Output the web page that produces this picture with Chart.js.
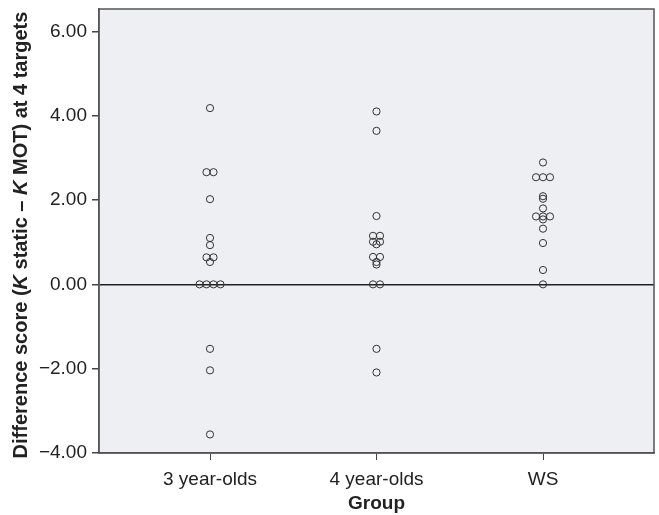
<!DOCTYPE html>
<html>
<head>
<meta charset="utf-8">
<script src="https://cdn.jsdelivr.net/npm/chart.js@4"></script>
<style>
  body { margin: 0; background: #fff; }
</style>
</head>
<body>
<canvas id="chart" width="659" height="515"></canvas>
<script>
// ---- Data ----
const groups = ['3 year-olds', '4 year-olds', 'WS'];
const groupX = [1, 2, 3];
const yTicks = [-4, -2, 0, 2, 4, 6];

const threeValues = [4.18, 2.66, 2.66, 2.02, 1.10, 0.93, 0.64, 0.64, 0.53, 0, 0, 0, 0, -1.53, -2.04, -3.56];
const threeSpread = [0, -0.5, 0.5, 0, 0, 0, -0.5, 0.5, 0, -1.5, -0.5, 0.5, 1.5, 0, 0, 0];

const fourValues = [4.10, 3.64, 1.62, 1.15, 1.15, 1.01, 1.01, 0.95, 0.65, 0.65, 0.53, 0.47, 0, 0, -1.53, -2.09];
const fourSpread = [0, 0, 0, -0.5, 0.5, -0.5, 0.5, 0, -0.5, 0.5, 0, 0, -0.5, 0.5, 0, 0];

const wsValues = [2.89, 2.54, 2.54, 2.54, 2.09, 2.03, 1.80, 1.61, 1.61, 1.61, 1.54, 1.32, 0.98, 0.34, 0];
const wsSpread = [0, -1, 0, 1, 0, 0, 0, -1, 0, 1, 0, 0, 0, 0, 0];

// width of one stacked dot, in category units
const dotStep = 0.042;

const yTitleParts = [
  ['Difference score (', false],
  ['K', true],
  [' static \u2013 ', false],
  ['K', true],
  [' MOT) at 4 targets', false]
];
const xTitle = 'Group';

const FONT = '"Liberation Sans", Arial, sans-serif';

const toPoints = (values, spread, x) => values.map((v, i) => ({ x: x + spread[i] * dotStep, y: v }));

const makeSet = (values, spread, x) => ({
  data: toPoints(values, spread, x),
  pointRadius: 3.6,
  pointBorderWidth: 1,
  pointBorderColor: '#333',
  pointBackgroundColor: 'rgba(0,0,0,0)',
  showLine: false
});

// panel background, frame and axis titles
const framePlugin = {
  id: 'frame',
  beforeDraw(chart) {
    const { ctx, chartArea: a } = chart;
    ctx.save();
    ctx.fillStyle = '#eeeff2';
    ctx.fillRect(a.left, a.top, a.right - a.left, a.bottom - a.top);
    ctx.restore();
  },
  afterDraw(chart) {
    const { ctx, chartArea: a } = chart;
    ctx.save();
    ctx.strokeStyle = '#555';
    ctx.lineWidth = 1.5;
    ctx.strokeRect(a.left, a.top, a.right - a.left, a.bottom - a.top);

    ctx.fillStyle = '#222';
    ctx.textBaseline = 'middle';
    // y title, mixed italic
    const fontOf = (it) => (it ? 'italic ' : '') + 'bold 20px ' + FONT;
    let total = 0;
    yTitleParts.forEach(p => { ctx.font = fontOf(p[1]); total += ctx.measureText(p[0]).width; });
    ctx.translate(21, 235);
    ctx.rotate(-Math.PI / 2);
    let x = -total / 2;
    ctx.textAlign = 'left';
    yTitleParts.forEach(p => {
      ctx.font = fontOf(p[1]);
      ctx.fillText(p[0], x, 0);
      x += ctx.measureText(p[0]).width;
    });
    ctx.setTransform(1, 0, 0, 1, 0, 0);
    // x title
    ctx.font = 'bold 19px ' + FONT;
    ctx.textAlign = 'center';
    const xs = chart.scales.x;
    ctx.fillText(xTitle, xs.getPixelForValue(groupX[1]), 504);
    ctx.restore();
  }
};

new Chart(document.getElementById('chart'), {
  type: 'scatter',
  data: {
    datasets: [
      makeSet(threeValues, threeSpread, groupX[0]),
      makeSet(fourValues, fourSpread, groupX[1]),
      makeSet(wsValues, wsSpread, groupX[2])
    ]
  },
  options: {
    responsive: false,
    animation: false,
    layout: { padding: { top: 9, right: 3, left: 0, bottom: 0 } },
    plugins: { legend: { display: false }, tooltip: { enabled: false } },
    scales: {
      x: {
        type: 'linear',
        min: 1 / 3,
        max: 11 / 3,
        afterBuildTicks: s => { s.ticks = groupX.map(v => ({ value: v })); },
        afterFit: s => { s.height = 62; s.paddingLeft = 0; s.paddingRight = 0; },
        ticks: {
          autoSkip: false,
          maxRotation: 0,
          padding: 8,
          color: '#222',
          font: { family: FONT, size: 19 },
          callback: v => groups[groupX.indexOf(v)]
        },
        grid: { drawOnChartArea: false, tickLength: 7, color: '#444', lineWidth: 1 },
        border: { color: '#555', width: 1.5 }
      },
      y: {
        min: -4,
        max: 6.53,
        afterBuildTicks: s => { s.ticks = yTicks.map(v => ({ value: v })); },
        afterFit: s => { s.width = 99; s.paddingTop = 0; s.paddingBottom = 0; },
        ticks: {
          padding: 5,
          color: '#222',
          font: { family: FONT, size: 19 },
          callback: v => (v < 0 ? '\u2212' : '') + Math.abs(v).toFixed(2)
        },
        grid: {
          color: c => (c.tick && c.tick.value === 0 ? '#222' : 'rgba(0,0,0,0)'),
          lineWidth: 1.5,
          tickLength: 7,
          tickColor: '#444'
        },
        border: { color: '#555', width: 1.5 }
      }
    }
  },
  plugins: [framePlugin]
});
</script>
</body>
</html>
